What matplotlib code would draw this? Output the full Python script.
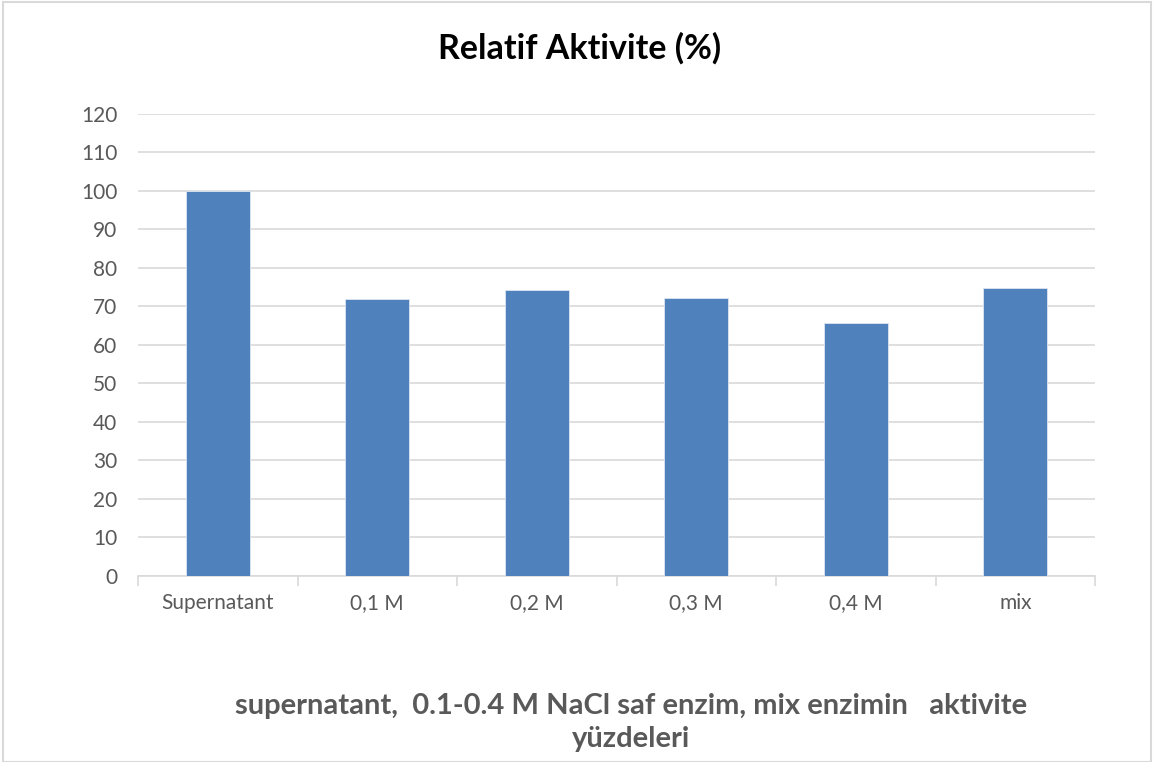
import numpy as np
import matplotlib.pyplot as plt
from matplotlib.patches import Rectangle

kategoriler = ["Supernatant", "0,1 M", "0,2 M", "0,3 M", "0,4 M", "mix"]
aktivite = [100, 71.9, 74.2, 72.3, 65.8, 74.8]
y_ticks = list(range(0, 121, 10))

plt.rcParams['font.family'] = ['Lato', 'DejaVu Sans']

fig = plt.figure(figsize=(11.53, 7.62), dpi=100)
ax = fig.add_axes([0.1197, 0.2441, 0.83, 0.6063])

x = np.arange(len(kategoriler))
ax.bar(x, aktivite, width=0.4, color="#4f81bd", edgecolor="#dce6f2", linewidth=0.6, zorder=3)

ax.set_xlim(-0.5, len(kategoriler) - 0.5)
ax.set_ylim(0, 120)
ax.set_yticks(y_ticks)
ax.yaxis.grid(True, color="#d9d9d9", linewidth=1.2, zorder=0)
ax.tick_params(axis="y", length=0, pad=15, labelsize=15, labelcolor="#595959")

ax.set_xticks(x)
ax.set_xticklabels(kategoriler)
ax.tick_params(axis="x", length=0, pad=12, labelsize=15, labelcolor="#595959")
ax.set_xticks(np.arange(-0.5, len(kategoriler)), minor=True)
ax.tick_params(axis="x", which="minor", length=7, color="#d9d9d9", width=1.2)

for s in ["top", "right", "left"]:
    ax.spines[s].set_visible(False)
ax.spines["bottom"].set_color("#d9d9d9")
ax.spines["bottom"].set_linewidth(1.2)

fig.text(0.503, 0.937, "Relatif Aktivite (%)", ha="center", va="center",
         fontsize=24.5, fontweight="bold", color="black")
fig.text(0.547, 0.052, "supernatant,  0.1-0.4 M NaCl saf enzim, mix enzimin   aktivite\nyüzdeleri",
         ha="center", va="center", fontsize=21, fontweight="bold", color="#595959",
         linespacing=1.3)

fig.patches.append(Rectangle((0.003, 0.0), 0.995, 0.997, transform=fig.transFigure,
                             fill=False, edgecolor="#d9d9d9", linewidth=1.5))

fig.savefig("out.png", dpi=100)
